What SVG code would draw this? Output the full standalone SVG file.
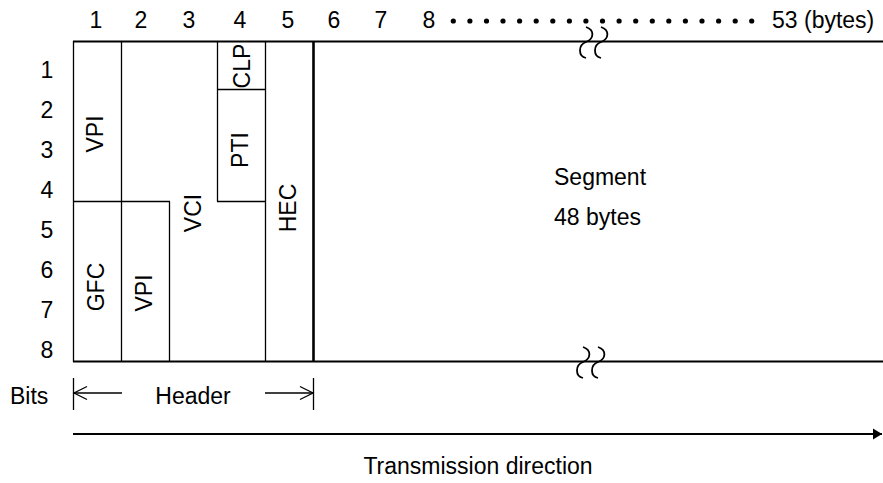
<svg xmlns="http://www.w3.org/2000/svg" width="883" height="483" viewBox="0 0 883 483">
  <style>
    text { font-family: "Liberation Sans", Arial, sans-serif; font-size: 23px; fill: #000; }
    .mid { text-anchor: middle; }
    .thin { stroke: #000; stroke-width: 1.3; fill: none; }
    .bold { stroke: #000; stroke-width: 2; fill: none; }
    .heavy { stroke: #000; stroke-width: 2.6; fill: none; }
    .sq { stroke: #000; stroke-width: 1.8; fill: none; }
  </style>
  <defs>
    <path id="squig" d="M 0,-15 C 9,-12 8,-3 0,0 C -8,3 -8,14 0,16"/>
    <marker id="fill-arrow" markerWidth="10" markerHeight="12" refX="9" refY="6" orient="auto" markerUnits="userSpaceOnUse">
      <path d="M0,0.5 L9,6 L0,11.5 Z" fill="#000"/>
    </marker>
    <marker id="open-arrow" markerWidth="16" markerHeight="16" refX="14" refY="8" orient="auto-start-reverse" markerUnits="userSpaceOnUse">
      <path d="M1,1.5 L14,8 L1,14.5" fill="none" stroke="#000" stroke-width="1.3"/>
    </marker>
  </defs>
  <rect width="883" height="483" fill="#fff"/>

  <!-- column numbers -->
  <g id="col-numbers">
    <text class="mid" x="96" y="28">1</text>
    <text class="mid" x="141" y="28">2</text>
    <text class="mid" x="189" y="28">3</text>
    <text class="mid" x="240" y="28">4</text>
    <text class="mid" x="288" y="28">5</text>
    <text class="mid" x="334" y="28">6</text>
    <text class="mid" x="381" y="28">7</text>
    <text class="mid" x="429" y="28">8</text>
    <g fill="#000">
      <circle cx="453.3" cy="21" r="2.6"/><circle cx="469.9" cy="21" r="2.6"/><circle cx="486.5" cy="21" r="2.6"/>
      <circle cx="503.0" cy="21" r="2.6"/><circle cx="519.6" cy="21" r="2.6"/><circle cx="536.2" cy="21" r="2.6"/>
      <circle cx="552.8" cy="21" r="2.6"/><circle cx="569.4" cy="21" r="2.6"/><circle cx="585.9" cy="21" r="2.6"/>
      <circle cx="602.5" cy="21" r="2.6"/><circle cx="619.1" cy="21" r="2.6"/><circle cx="635.7" cy="21" r="2.6"/>
      <circle cx="652.3" cy="21" r="2.6"/><circle cx="668.8" cy="21" r="2.6"/><circle cx="685.4" cy="21" r="2.6"/>
      <circle cx="702.0" cy="21" r="2.6"/><circle cx="718.6" cy="21" r="2.6"/><circle cx="735.2" cy="21" r="2.6"/>
      <circle cx="751.7" cy="21" r="2.6"/>
    </g>
    <text x="772" y="28">53 (bytes)</text>
  </g>

  <!-- row numbers -->
  <g id="row-numbers">
    <text class="mid" x="47" y="78">1</text>
    <text class="mid" x="47" y="118">2</text>
    <text class="mid" x="47" y="158">3</text>
    <text class="mid" x="47" y="198">4</text>
    <text class="mid" x="47" y="238">5</text>
    <text class="mid" x="47" y="278">6</text>
    <text class="mid" x="47" y="318">7</text>
    <text class="mid" x="47" y="358">8</text>
  </g>

  <!-- cell frame -->
  <g id="frame">
    <line class="bold" x1="73" y1="41.5" x2="883" y2="41.5"/>
    <line class="bold" x1="73" y1="361.5" x2="883" y2="361.5"/>
    <line class="thin" x1="73.5" y1="41" x2="73.5" y2="362"/>
    <line class="thin" x1="121.5" y1="41" x2="121.5" y2="362"/>
    <line class="thin" x1="169.5" y1="201.5" x2="169.5" y2="362"/>
    <line class="thin" x1="217.5" y1="41" x2="217.5" y2="201.5"/>
    <line class="thin" x1="265.5" y1="41" x2="265.5" y2="362"/>
    <line class="heavy" x1="313.5" y1="41" x2="313.5" y2="362"/>
    <line class="thin" x1="73" y1="201.5" x2="170" y2="201.5"/>
    <line class="thin" x1="217" y1="201.5" x2="266" y2="201.5"/>
    <line class="thin" x1="217" y1="89.5" x2="266" y2="89.5"/>
    <use href="#squig" class="sq" x="586" y="42"/>
    <use href="#squig" class="sq" x="601" y="42"/>
    <use href="#squig" class="sq" x="583" y="362"/>
    <use href="#squig" class="sq" x="598" y="362"/>
  </g>

  <!-- fields -->
  <g id="vpi-upper"><text class="mid" transform="translate(103,134) rotate(-90)">VPI</text></g>
  <g id="gfc"><text class="mid" transform="translate(104,287) rotate(-90)">GFC</text></g>
  <g id="vpi-lower"><text class="mid" transform="translate(152,293) rotate(-90)">VPI</text></g>
  <g id="vci"><text class="mid" transform="translate(201,213) rotate(-90)">VCI</text></g>
  <g id="clp"><text class="mid" transform="translate(250,66) rotate(-90)">CLP</text></g>
  <g id="pti"><text class="mid" transform="translate(248,150) rotate(-90)">PTI</text></g>
  <g id="hec"><text class="mid" transform="translate(296,208) rotate(-90)">HEC</text></g>
  <g id="segment">
    <text x="554" y="185">Segment</text>
    <text x="554" y="225">48 bytes</text>
  </g>

  <!-- header span -->
  <g id="header-span">
    <text x="10" y="404">Bits</text>
    <line class="thin" x1="73.5" y1="378" x2="73.5" y2="410"/>
    <line class="thin" x1="313.5" y1="378" x2="313.5" y2="410"/>
    <text class="mid" x="193" y="404">Header</text>
  </g>

  <g id="connectors">
    <line class="thin" x1="122" y1="393" x2="74" y2="393" marker-end="url(#open-arrow)"/>
    <line class="thin" x1="265" y1="393" x2="313" y2="393" marker-end="url(#open-arrow)"/>
    <line class="bold" x1="73" y1="434" x2="882" y2="434" marker-end="url(#fill-arrow)"/>
  </g>
  <g id="direction-label"><text class="mid" x="478" y="474">Transmission direction</text></g>
</svg>
